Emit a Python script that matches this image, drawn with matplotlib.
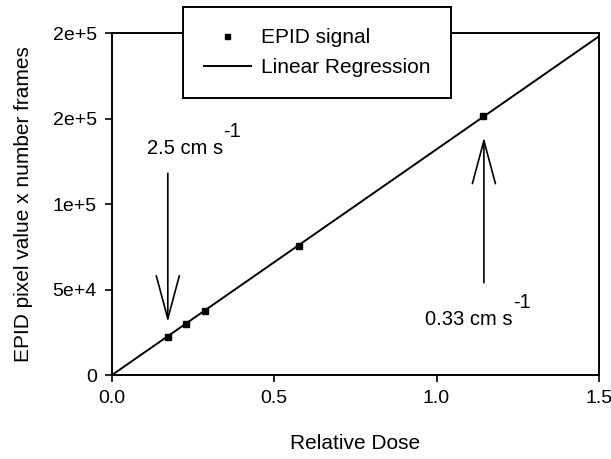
import numpy as np
import matplotlib.pyplot as plt

plt.rcParams['font.family'] = ['Liberation Sans', 'DejaVu Sans']

# EPID signal vs relative dose
dose = [0.172, 0.228, 0.286, 0.576, 1.144]
signal = [22000, 29800, 37200, 75300, 151700]

# regression line (through origin)
fit_slope = 132000
fit_intercept = 0
fit_x = [0.0, 1.5]

y_ticks = [0, 50000, 100000, 150000, 200000]
y_tick_labels = ['0', '5e+4', '1e+5', '2e+5', '2e+5']
x_ticks = [0.0, 0.5, 1.0, 1.5]
x_tick_labels = ['0.0', '0.5', '1.0', '1.5']

fig = plt.figure(figsize=(6.11, 4.59), dpi=100)
ax = fig.add_axes([0.1833, 0.183, 0.7967, 0.745])

fx = np.array(fit_x)
ax.plot(fx, fit_slope * fx + fit_intercept, '-', color='black', lw=1.4,
        label='Linear Regression', zorder=2)
ax.plot(dose, signal, 's', color='black', markersize=4.5, linestyle='none',
        label='EPID signal', zorder=3)

ax.set_xlim(0, 1.5)
ax.set_ylim(0, 200000)
ax.set_xticks(x_ticks)
ax.set_xticklabels(x_tick_labels)
ax.set_yticks(y_ticks)
ax.set_yticklabels(y_tick_labels)
ax.tick_params(direction='out', length=5, width=1.2, labelsize=14, pad=6,
               top=False, right=False, colors='black')
for s in ax.spines.values():
    s.set_linewidth(1.4)

ax.set_xlabel('Relative Dose', fontsize=15, labelpad=19)
ax.set_ylabel('EPID pixel value x number frames', fontsize=15, labelpad=14)

# arrows marking the two speeds
arrow = dict(arrowstyle='->,head_length=3.1,head_width=0.83', color='black', lw=1.2,
             shrinkA=0, shrinkB=0, mutation_scale=10)
ax.annotate('', xy=(0.172, 31000), xytext=(0.172, 118000), arrowprops=arrow)
ax.annotate('', xy=(1.146, 139000), xytext=(1.146, 54000), arrowprops=arrow)


def speed_label(x, y, txt):
    # "cm s" followed by a raised "-1"
    t = ax.text(x, y, txt + ' cm s', fontsize=14.5, ha='left', va='baseline')
    ax.annotate('-1', xy=(1, y), xycoords=(t, 'data'), xytext=(0, 17),
                textcoords='offset pixels', fontsize=14.5, ha='left',
                va='baseline')


speed_label(0.108, 129500, '2.5')
speed_label(0.965, 29200, '0.33')

handles, labels = ax.get_legend_handles_labels()
leg = ax.legend(handles[::-1], labels[::-1], loc='upper left',
                bbox_to_anchor=(0.1458, 1.076), borderaxespad=0, fontsize=15,
                frameon=True, fancybox=False, edgecolor='black', framealpha=1,
                handlelength=2.25, handletextpad=0.5, borderpad=1.0,
                labelspacing=0.55, markerscale=0.8)
leg.get_frame().set_linewidth(1.4)

fig.savefig('out.png', dpi=100)
